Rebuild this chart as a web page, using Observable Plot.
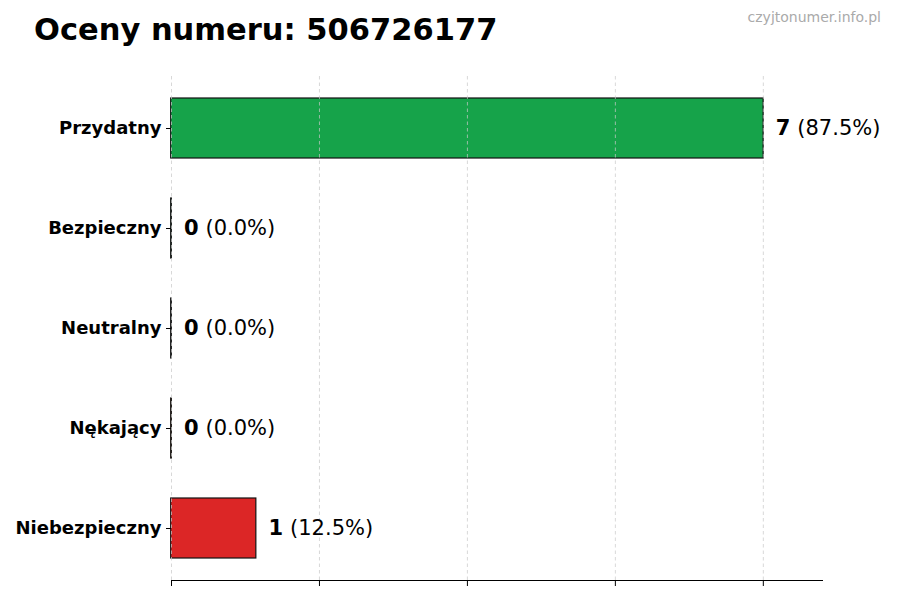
<!DOCTYPE html>
<html>
<head>
<meta charset="utf-8">
<script src="https://cdn.jsdelivr.net/npm/d3@7"></script>
<script src="https://cdn.jsdelivr.net/npm/@observablehq/plot@0.6"></script>
<style>
  html, body { margin: 0; padding: 0; background: #fff; }
  #wrap { position: relative; width: 900px; height: 600px; font-family: "DejaVu Sans", sans-serif; }
  #header { position: relative; height: 60px; }
  #title { position: absolute; left: 34px; top: 12px; font-size: 30.5px; font-weight: bold; color: #000; line-height: normal; white-space: nowrap; }
  #brand { position: absolute; right: 19px; top: 9px; font-size: 14px; color: #aaaaaa; line-height: normal; white-space: nowrap; }
</style>
</head>
<body>
<div id="wrap">
  <div id="header">
    <div id="title">Oceny numeru: 506726177</div>
    <div id="brand">czyjtonumer.info.pl</div>
  </div>
  <div id="chart"></div>
</div>
<script>
const categories = ["Przydatny", "Bezpieczny", "Neutralny", "Nękający", "Niebezpieczny"];
const values = [7, 0, 0, 0, 1];
const colors = ["#16a34a", "#4ade80", "#9ca3af", "#f97316", "#dc2626"];
const xTicks = [0, 1.75, 3.5, 5.25, 7];
const xMax = 7.7;

const total = d3.sum(values);
const data = categories.map((c, i) => ({
  cat: c,
  value: values[i],
  color: colors[i],
  pct: "(" + (values[i] / total * 100).toFixed(1) + "%)"
}));

const chart = Plot.plot({
  width: 900,
  height: 540,
  marginTop: 16,
  marginBottom: 20,
  marginLeft: 171,
  marginRight: 78,
  style: { fontFamily: "DejaVu Sans, sans-serif", background: "#fff", color: "#000", overflow: "visible" },
  x: { domain: [0, xMax], ticks: xTicks },
  y: { domain: categories, paddingInner: 0.4, paddingOuter: 0.22, align: 0.5 },
  marks: [
    Plot.barX(data, {
      x1: 0, x2: "value", y: "cat", fill: "color",
      stroke: "#111", strokeWidth: 1.2, insetLeft: -0.3, insetRight: -0.3
    }),
    Plot.ruleX(xTicks, { stroke: "#c8c8c8", strokeDasharray: "3.5,3", strokeWidth: 0.8, strokeOpacity: 0.9 }),
    Plot.frame({ anchor: "bottom", stroke: "#000", strokeWidth: 1 }),
    Plot.axisX(xTicks, { tickSize: 6, tickFormat: () => "", stroke: "#000", label: null }),
    Plot.axisY({ tickSize: 5, tickPadding: 5, fontSize: 18, fontWeight: "bold", label: null, stroke: "#000", fill: "#000" }),
    Plot.text(data, {
      x: "value", y: "cat", text: d => String(d.value), dx: 12.5, textAnchor: "start",
      fontSize: 21, fontWeight: "bold", fill: "#000"
    }),
    Plot.text(data, {
      x: "value", y: "cat", text: "pct", dx: 34, textAnchor: "start",
      fontSize: 21, fill: "#000"
    })
  ]
});
document.getElementById("chart").appendChild(chart);
</script>
</body>
</html>
